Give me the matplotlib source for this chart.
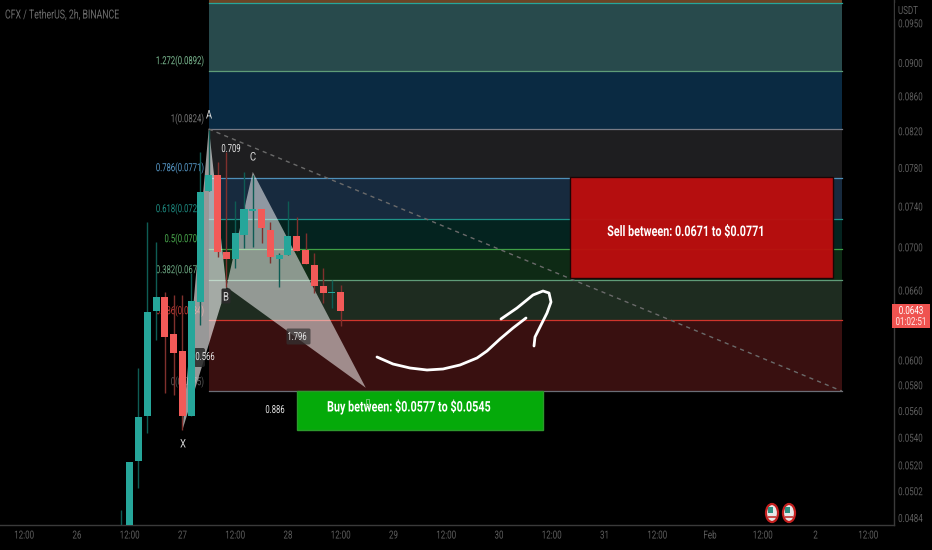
import matplotlib
matplotlib.use('Agg')
import matplotlib.pyplot as plt
from matplotlib.patches import Rectangle, Ellipse, Polygon, FancyBboxPatch
from matplotlib.patheffects import AbstractPathEffect
from matplotlib.ticker import FixedLocator, FixedFormatter, NullLocator
from matplotlib.transforms import Affine2D

plt.rcParams['font.family'] = ['Roboto', 'DejaVu Sans']

# hours counted from 26 Jan 00:00, one candle every 2h
hours = list(range(10, 62, 2))
opens = [.0462, .0470, .05230, .05561, .06418, .06542, .06220, .06078, .05561, .06497, .07559, .07726, .06955,
         .06889, .07119, .07355, .07376, .07167, .06889, .06927, .07108, .06974, .06832, .06641, .06577, .06586]
highs = [.04893, .05223, .05938, .07246, .07050, .06586, .06560, .06560, .06758, .07971, .08214, .07863, .07971,
         .07457, .07758, .07726, .07376, .07246, .06946, .07457, .07296, .07138, .06946, .06805, .06695, .06650]
lows = [.0455, .0465, .05042, .05435, .06170, .05738, .05723, .05457, .05561, .06297, .07559, .06908, .06632,
        .06805, .06993, .07003, .07041, .06851, .06632, .06927, .06965, .06842, .06577, .06488, .06444, .06288]
closes = [.0475, .05223, .05554, .06409, .06542, .06195, .06061, .05561, .06506, .07549, .07726, .06955, .06889,
          .07138, .07376, .07376, .07187, .06908, .06927, .07108, .06965, .06842, .06641, .06577, .06586, .06418]

# fib retracement, top to bottom
fib_prices = [.09807, .09767, .08902, .08225, .07694, .07276, .06983, .06695, .06340, .05754]
fib_lines = ['#d1743a', '#26a69a', '#5f9c78', '#787b86', '#4f8fb8', '#1f9288', '#3f9f45', '#5f9c78', '#d0352c', '#6a6d76']
fib_fills = ['#6b4526', '#284a4c', '#0a2a42', '#1e1e20', '#172a3e', '#04231f', '#0e2a15', '#1e2c20', '#391010']
fib_text = ['1.272(0.0892)', '1(0.0824)', '0.786(0.0771)', '0.618(0.0729)', '0.5(0.0700)', '0.382(0.0671)',
            '0.236(0.0634)', '0(0.0575)']
fib_text_y = [61, 119, 168, 209, 239, 270, 311, 382]
fib_text_col = ['#7fbf95', '#787878', '#5a9ecf', '#1f8f85', '#4caf50', '#6fae86', '#c93c36', '#5c5c5c']
fib_start, fib_end = 30, 174

# harmonic pattern points X A B C D
pat_x = [24, 30, 34, 40, 65.7]
pat_y = [.05457, .08240, .06632, .07758, .05780]

sell_box = [112.1, 172, .06715, .07700]
buy_box = [50, 106, .05457, .05754]

y_ticks = [.0950, .0900, .0860, .0820, .0780, .0740, .0700, .0660, .0600, .0580, .0560, .0540, .0520, .0502, .0484]
x_ticks = list(range(-12, 192, 12))
x_labels = ['12:00', '26', '12:00', '27', '12:00', '28', '12:00', '29', '12:00', '30', '12:00', '31', '12:00',
            'Feb', '12:00', '2', '12:00']

shaft_x = [377, 393, 410, 427, 443, 460, 477, 487, 500, 513, 526]
shaft_y = [357, 364, 368, 370, 369, 365, 358, 351, 339, 328, 318]
head_x = [501, 517, 533, 543, 549, 551, 547, 540, 535, 534]
head_y = [319, 308, 295, 291, 293, 302, 313, 327, 337, 346]

GREEN, RED = '#26a69a', '#f25a58'
GREEN_WICK, RED_WICK = '#0e5c54', '#80302d'
AXIS_TXT = '#5e5e5e'


class Narrow(AbstractPathEffect):
    # squeezes a text sideways around a screen x, the chart's font is a condensed one
    def __init__(self, anchor, factor=.69):
        super().__init__()
        self.anchor = anchor
        self.factor = factor

    def draw_path(self, renderer, gc, tpath, affine, rgbFace=None):
        squeeze = Affine2D().translate(-self.anchor, 0).scale(self.factor, 1).translate(self.anchor, 0)
        renderer.draw_path(gc, tpath, affine + squeeze, rgbFace)


fig = plt.figure(figsize=(9.32, 5.5), dpi=100, facecolor='black')
ax = fig.add_axes([0, 25 / 550, 894 / 932, 525 / 550], facecolor='black')
ax.set_yscale('log')
ax.set_xlim(-17.5, 185.85)
ax.set_ylim(.04794, .09807)

# screen pixels, for things drawn by hand on top of the chart
px = Affine2D().scale(1, -1).translate(0, 550)


def label(x, y, txt, color, size=8, ha='center', zorder=7, factor=.69, weight='normal'):
    t = ax.text(x, y, txt, transform=px, color=color, fontsize=size, ha=ha, va='center', zorder=zorder,
                fontweight=weight, clip_on=False)
    t.set_path_effects([Narrow(x, factor)])
    return t


for i in range(len(fib_fills)):
    ax.fill_between([fib_start, fib_end], fib_prices[i + 1], fib_prices[i], color=fib_fills[i], lw=0, zorder=1)
for price, col in zip(fib_prices[1:], fib_lines[1:]):
    ax.plot([fib_start, fib_end], [price, price], color=col, lw=.9, zorder=2)
ax.plot([fib_start, fib_end], [fib_prices[3], fib_prices[-1]], color='#6a6a6a', lw=1, ls=(0, (3, 3)), zorder=2)

for txt, y, col in zip(fib_text, fib_text_y, fib_text_col):
    label(204, y, txt, col, size=8, ha='right', zorder=2)

ax.add_patch(Polygon(list(zip(pat_x[:3], pat_y[:3])), closed=True, fc='white', ec='none', alpha=.6, zorder=3))
ax.add_patch(Polygon(list(zip(pat_x[2:], pat_y[2:])), closed=True, fc='white', ec='none', alpha=.52, zorder=3))

ax.add_patch(FancyBboxPatch((196, 350), 7, 15, boxstyle='round,pad=2', transform=px, fc='#262626', ec='none',
                            alpha=.85, zorder=3.5))

for h, o, hi, lo, c in zip(hours, opens, highs, lows, closes):
    up = c >= o
    ax.plot([h, h], [lo, hi], color=GREEN_WICK if up else RED_WICK, lw=1, solid_capstyle='butt', zorder=4)
    ax.add_patch(Rectangle((h - .8, min(o, c)), 1.6, max(abs(c - o), .00006), fc=GREEN if up else RED, ec='none', zorder=5))

ax.add_patch(Rectangle((sell_box[0], sell_box[2]), sell_box[1] - sell_box[0], sell_box[3] - sell_box[2],
                       fc='#bb0e0e', ec='#1a0505', lw=1, alpha=.97, zorder=6))
ax.add_patch(Rectangle((buy_box[0], buy_box[2]), buy_box[1] - buy_box[0], buy_box[3] - buy_box[2],
                       fc='#05aa0a', ec='#2c9a2c', lw=1, zorder=6))
label(686, 232, r'Sell between: 0.0671 to \$0.0771', 'white', size=10.5, weight='bold', factor=.74)
label(409, 407, r'Buy between: \$0.0577 to \$0.0545', 'white', size=10.5, weight='bold', factor=.74)
ax.add_patch(Rectangle((366, 399), 3, 6, transform=px, fc='none', ec='#7fcf7f', lw=.6, zorder=7))

# pattern labels
for txt, x, y in [('A', 209, 115), ('C', 253, 157), ('X', 183, 444)]:
    label(x, y, txt, '#d8d8d8', size=8.5, factor=.8)
ax.add_patch(FancyBboxPatch((223, 290), 6, 12, boxstyle='round,pad=1.5', transform=px, fc='#2b2b2b', ec='none', zorder=6))
label(226, 297, 'B', '#d8d8d8', size=8.5, factor=.8)
label(231, 149, '0.709', '#e6e6e6')
label(275, 410, '0.886', '#e6e6e6')
label(205, 357, '0.566', '#e6e6e6')
ax.add_patch(FancyBboxPatch((288, 330), 21, 13, boxstyle='round,pad=1.5', transform=px, fc='#333333', ec='none',
                            alpha=.7, zorder=6))
label(297, 337, '1.796', '#e6e6e6')

ax.plot(shaft_x, shaft_y, transform=px, color='white', lw=2, solid_capstyle='round', zorder=8)
ax.plot(head_x, head_y, transform=px, color='white', lw=2, solid_capstyle='round', zorder=8)

# flag icons on the time axis
for cx in [772, 789]:
    ax.add_patch(Ellipse((cx, 513), 12, 18, transform=px, fc='#e8e8e8', ec='#c4201f', lw=1.6, zorder=8, clip_on=False))
    ax.add_patch(Rectangle((cx - 4, 507), 5, 6, transform=px, fc='#2f8f80', ec='none', zorder=9, clip_on=False))
    ax.add_patch(Rectangle((cx - 4, 516), 8, 2, transform=px, fc='#c9504d', ec='none', zorder=9, clip_on=False))

ax.yaxis.tick_right()
ax.yaxis.set_major_locator(FixedLocator(y_ticks))
ax.yaxis.set_major_formatter(FixedFormatter(['%.4f' % v for v in y_ticks]))
ax.yaxis.set_minor_locator(NullLocator())
ax.xaxis.set_major_locator(FixedLocator(x_ticks))
ax.xaxis.set_major_formatter(FixedFormatter(x_labels))
ax.tick_params(axis='y', length=0, pad=3, labelsize=8, labelcolor=AXIS_TXT)
ax.tick_params(axis='x', length=0, pad=4, labelsize=8, labelcolor=AXIS_TXT)
for side in ['top', 'left']:
    ax.spines[side].set_visible(False)
for side in ['bottom', 'right']:
    ax.spines[side].set_color('#3a3a3a')
    ax.spines[side].set_linewidth(1)

for lab in ax.get_yticklabels():
    lab.set_path_effects([Narrow(898, .72)])
for h, lab in zip(x_ticks, ax.get_xticklabels()):
    lab.set_path_effects([Narrow(ax.transData.transform((h, .06))[0], .72)])

label(5, 15, 'CFX / TetherUS, 2h, BINANCE', '#6e6e6e', size=9, ha='left', factor=.7)
ax.text(898, 11, 'USDT', transform=px, color=AXIS_TXT, fontsize=8, ha='left', va='center', clip_on=False, zorder=10,
        bbox=dict(fc='black', ec='none', pad=2.5)).set_path_effects([Narrow(898, .72)])

ax.add_patch(Rectangle((892, 304), 38, 24, transform=px, fc='#ef5350', ec='none', clip_on=False, zorder=10))
label(911, 311, '0.0643', 'white', size=8, zorder=11, factor=.72)
label(911, 322, '01:02:51', '#ffe6e6', size=8, zorder=11, factor=.72)

fig.savefig('out.png', dpi=100, facecolor='black')
